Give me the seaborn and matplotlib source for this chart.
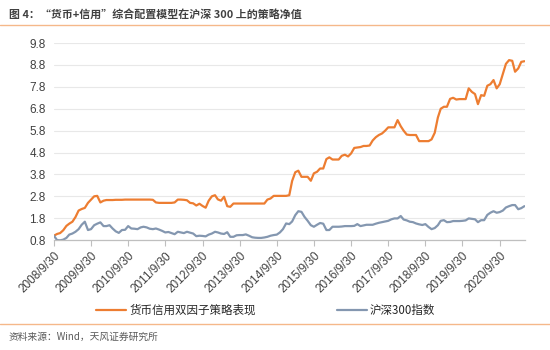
import matplotlib
matplotlib.use("Agg")
import matplotlib.pyplot as plt
import matplotlib.dates as mdates
from matplotlib.lines import Line2D
import seaborn as sns
import pandas as pd
import numpy as np

# ---------------- data ----------------
start_date = "2008-09-30"
strategy = [
    1.00, 1.08, 1.12, 1.25, 1.45, 1.55, 1.64, 1.85, 2.15, 2.22,
    2.27, 2.50, 2.65, 2.80, 2.82, 2.52, 2.60, 2.63, 2.63, 2.63,
    2.64, 2.64, 2.64, 2.65, 2.65, 2.65, 2.65, 2.65, 2.65, 2.65,
    2.65, 2.65, 2.64, 2.52, 2.50, 2.50, 2.50, 2.50, 2.50, 2.52,
    2.65, 2.65, 2.64, 2.62, 2.50, 2.48, 2.38, 2.46, 2.36, 2.28,
    2.60, 2.80, 2.85, 2.66, 2.60, 2.78, 2.35, 2.32, 2.47, 2.47,
    2.47, 2.47, 2.47, 2.47, 2.47, 2.47, 2.47, 2.47, 2.47, 2.65,
    2.70, 2.82, 2.82, 2.82, 2.82, 2.82, 2.85, 3.50, 3.90, 3.97,
    3.69, 3.69, 3.69, 3.51, 3.85, 3.92, 4.07, 4.07, 4.50, 4.58,
    4.48, 4.48, 4.48, 4.65, 4.70, 4.62, 4.76, 5.01, 5.03, 5.05,
    5.10, 5.10, 5.12, 5.35, 5.50, 5.60, 5.67, 5.80, 5.95, 5.95,
    5.95, 6.28, 6.00, 5.80, 5.62, 5.60, 5.60, 5.60, 5.32, 5.32,
    5.32, 5.32, 5.40, 5.70, 6.40, 6.80, 6.89, 6.89, 7.25, 7.30,
    7.22, 7.24, 7.24, 7.24, 7.73, 7.57, 7.47, 7.01, 7.42, 7.39,
    7.85, 7.92, 8.11, 7.73, 7.92, 8.40, 8.85, 9.02, 8.99, 8.49,
    8.64, 8.94, 8.97,
]
hs300 = [
    1.00, 0.80, 0.79, 0.82, 0.90, 1.05, 1.10, 1.18, 1.30, 1.50,
    1.64, 1.26, 1.30, 1.48, 1.55, 1.61, 1.44, 1.44, 1.48, 1.33,
    1.20, 1.13, 1.26, 1.27, 1.44, 1.33, 1.32, 1.30, 1.38, 1.41,
    1.38, 1.32, 1.30, 1.33, 1.28, 1.22, 1.15, 1.17, 1.12, 1.07,
    1.18, 1.15, 1.12, 1.18, 1.14, 1.10, 0.98, 1.00, 0.99, 0.97,
    1.05, 1.10, 1.18, 1.15, 1.10, 1.08, 1.16, 0.95, 0.95, 1.02,
    1.03, 1.03, 1.06, 1.00, 0.93, 0.91, 0.90, 0.90, 0.92, 0.95,
    1.00, 1.03, 1.05, 1.15, 1.30, 1.56, 1.53, 1.65, 1.94, 2.12,
    2.09, 1.86, 1.68, 1.48, 1.41, 1.50, 1.58, 1.55, 1.26, 1.26,
    1.41, 1.41, 1.41, 1.42, 1.44, 1.44, 1.44, 1.45, 1.53, 1.44,
    1.47, 1.50, 1.50, 1.50, 1.55, 1.59, 1.62, 1.65, 1.68, 1.75,
    1.79, 1.79, 1.90, 1.74, 1.70, 1.64, 1.62, 1.56, 1.52, 1.49,
    1.53, 1.40, 1.30, 1.35, 1.48, 1.68, 1.71, 1.62, 1.63, 1.67,
    1.67, 1.67, 1.68, 1.70, 1.79, 1.77, 1.75, 1.62, 1.71, 1.71,
    1.95, 2.05, 2.12, 2.05, 2.08, 2.15, 2.29, 2.35, 2.40, 2.40,
    2.21, 2.26, 2.35,
]
series_names = ["货币信用双因子策略表现", "沪深300指数"]
tick_years = list(range(2008, 2021))
y_ticks = [0.8, 1.8, 2.8, 3.8, 4.8, 5.8, 6.8, 7.8, 8.8, 9.8]
title_text = "图 4：“货币+信用”综合配置模型在沪深 300 上的策略净值"
source_text = "资料来源：Wind，天风证券研究所"

# ---------------- build frame ----------------
dates = pd.date_range(start_date, periods=len(strategy), freq="ME")
df = pd.DataFrame({
    "date": np.concatenate([dates, dates]),
    "value": strategy + hs300,
    "series": [series_names[0]] * len(strategy) + [series_names[1]] * len(hs300),
})

sns.set_theme(style="white")
plt.rcParams["font.family"] = ["Liberation Sans", "Noto Sans CJK SC", "DejaVu Sans"]
CJK = ["Noto Sans CJK SC", "DejaVu Sans"]

colors = {series_names[0]: "#ED7D31", series_names[1]: "#8497B0"}

fig = plt.figure(figsize=(5.5, 3.5), dpi=100)
ax = fig.add_axes([0.098, 0.314, 0.857, 0.563])

sns.lineplot(data=df, x="date", y="value", hue="series", palette=colors,
             linewidth=1.6, ax=ax, legend=False)

ax.set_ylim(0.8, 9.8)
ax.set_yticks(y_ticks)
ax.set_yticklabels([f"{v:.1f}" for v in y_ticks], fontsize=8.5, color="#404040")
ax.yaxis.grid(True, color="#E8E8E8", linewidth=0.8)
ax.set_axisbelow(True)

tick_dates = [pd.Timestamp(f"{y}-09-30") for y in tick_years]
ax.set_xticks(tick_dates)
ax.set_xticklabels([f"{y}/9/30" for y in tick_years], rotation=45, ha="right",
                   rotation_mode="anchor", fontsize=8.5, color="#404040")
ax.set_xlim(pd.Timestamp("2008-09-30"), pd.Timestamp("2021-06-08"))
ax.tick_params(axis="x", length=4, width=0.8, color="#BFBFBF", pad=3, bottom=True)
ax.tick_params(axis="y", length=0, pad=6)
ax.set_xlabel("")
ax.set_ylabel("")
for s in ["top", "right", "left"]:
    ax.spines[s].set_visible(False)
ax.spines["bottom"].set_color("#BFBFBF")
ax.spines["bottom"].set_linewidth(0.9)

# legend
handles = [Line2D([0], [0], color=colors[n], linewidth=1.6) for n in series_names]
fig.legend(handles, series_names, loc="center", bbox_to_anchor=(0.483, 0.113),
           ncol=2, frameon=False, prop={"family": CJK, "size": 8.3},
           handlelength=2.6, handletextpad=0.3, columnspacing=7.0)

# title and decorations
fig.text(0.016, 0.957, title_text, fontsize=7.9, fontweight="bold",
         color="#404040", family=CJK, va="center", ha="left")
fig.add_artist(Line2D([0, 1], [0.928, 0.928], transform=fig.transFigure,
                      color="#F5B88A", linewidth=1.0))
fig.add_artist(Line2D([0, 1], [0.073, 0.073], transform=fig.transFigure,
                      color="#F5B88A", linewidth=1.0))
fig.text(0.016, 0.037, source_text, fontsize=7, color="#595959",
         family=CJK, va="center", ha="left")

fig.savefig("out.png", dpi=100)
